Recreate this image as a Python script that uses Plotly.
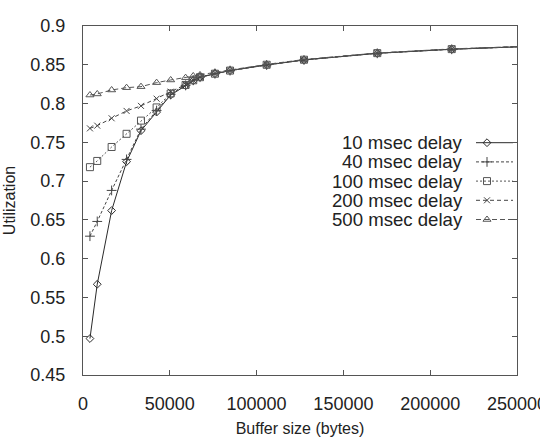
import plotly.graph_objects as go

# ---- data ----
buffer_bytes = [4000, 8200, 16500, 25100, 33400, 42400, 50500, 59100, 63500, 67400,
                76000, 84700, 105800, 127300, 169500, 212400, 255000]
util_10 = [0.497, 0.567, 0.662, 0.725, 0.765, 0.789, 0.811, 0.823, 0.8295, 0.834,
           0.8385, 0.8425, 0.8497, 0.8562, 0.8648, 0.870, 0.8735]
util_40 = [0.629, 0.648, 0.688, 0.728, 0.767, 0.791, 0.812, 0.8235, 0.830, 0.834,
           0.8385, 0.8425, 0.8497, 0.8562, 0.8648, 0.870, 0.8735]
util_100 = [0.718, 0.726, 0.744, 0.761, 0.778, 0.795, 0.813, 0.824, 0.830, 0.834,
            0.8385, 0.8425, 0.850, 0.8565, 0.865, 0.8702, 0.8737]
util_200 = [0.768, 0.7715, 0.781, 0.7905, 0.797, 0.8063, 0.8153, 0.8245, 0.830, 0.834,
            0.8388, 0.8427, 0.850, 0.8565, 0.865, 0.8702, 0.8737]
util_500 = [0.811, 0.8124, 0.8175, 0.8205, 0.8218, 0.827, 0.8304, 0.8334, 0.8356, 0.8369,
            0.8403, 0.8433, 0.8505, 0.8568, 0.8652, 0.8705, 0.8738]

series_names = ["10 msec delay", "40 msec delay", "100 msec delay",
                "200 msec delay", "500 msec delay"]
series_values = [util_10, util_40, util_100, util_200, util_500]

x_tick_vals = [0, 50000, 100000, 150000, 200000, 250000]
x_tick_text = ["0", "50000", "100000", "150000", "200000", "250000"]
y_tick_vals = [0.45, 0.5, 0.55, 0.6, 0.65, 0.7, 0.75, 0.8, 0.85, 0.9]
y_tick_text = ["0.45", "0.5", "0.55", "0.6", "0.65", "0.7", "0.75", "0.8", "0.85", "0.9"]

# ---- styles ----
symbols = ["diamond-open", "cross-thin-open", "square-open", "x-thin-open", "triangle-up-open"]
msizes = [6, 7, 7, 6, 7]
dashes = ["solid", "3px,2px", "2px,2px", "4px,3px", "5px,3px"]
colors = ["#2a2a2a", "#444444", "#555555", "#444444", "#555555"]

FONT = "Liberation Sans, Arial, Helvetica, sans-serif"
AX = "#555555"
TXT = "#222222"

fig = go.Figure()
for name, vals, sym, ms, dash, col in zip(series_names, series_values, symbols, msizes, dashes, colors):
    fig.add_trace(go.Scatter(
        x=buffer_bytes, y=vals, mode="lines+markers", name=name,
        line=dict(color=col, width=1, dash=dash),
        marker=dict(symbol=sym, size=ms, color=col, line=dict(color=col, width=1)),
        showlegend=False, xaxis="x", yaxis="y"))

# ---- custom gnuplot-style key (text left of sample) on overlay pixel axes ----
key_top = 142.7
key_step = 19.2
for i, (name, sym, ms, dash, col) in enumerate(zip(series_names, symbols, msizes, dashes, colors)):
    yy = key_top + i * key_step
    fig.add_trace(go.Scatter(
        x=[476, 513], y=[yy, yy], mode="lines",
        line=dict(color=col, width=1, dash=dash),
        showlegend=False, hoverinfo="skip", xaxis="x2", yaxis="y2"))
    fig.add_trace(go.Scatter(
        x=[487], y=[yy], mode="markers",
        marker=dict(symbol=sym, size=ms, color=col, line=dict(color=col, width=1)),
        showlegend=False, hoverinfo="skip", xaxis="x2", yaxis="y2"))
    fig.add_annotation(x=465, y=yy, xref="x2", yref="y2", text=name,
                       showarrow=False, xanchor="right", yanchor="middle",
                       font=dict(family=FONT, size=18.6, color=TXT))

# last x tick label (clipped by the page edge like in the reference)
fig.add_annotation(x=x_tick_vals[-1], y=0, xref="x", yref="paper", text=x_tick_text[-1],
                   showarrow=False, xanchor="center", yanchor="top", yshift=-17,
                   font=dict(family=FONT, size=18, color=TXT))

fig.update_layout(
    width=540, height=439,
    margin=dict(l=83, r=23, t=26, b=64),
    paper_bgcolor="white", plot_bgcolor="white",
    font=dict(family=FONT, size=18, color=TXT),
    xaxis=dict(range=[0, 250000], tickvals=x_tick_vals, ticktext=x_tick_text,
               ticks="inside", ticklen=5, tickcolor=AX, mirror="allticks",
               showline=True, linecolor=AX, linewidth=1, showgrid=False, zeroline=False,
               ticklabelstandoff=12, automargin=False,
               title=dict(text="Buffer size (bytes)", font=dict(size=16), standoff=10)),
    yaxis=dict(range=[0.45, 0.9], tickvals=y_tick_vals, ticktext=y_tick_text,
               ticks="inside", ticklen=5, tickcolor=AX, mirror="allticks",
               showline=True, linecolor=AX, linewidth=1, showgrid=False, zeroline=False,
               ticklabelstandoff=13, automargin=False,
               title=dict(text="Utilization", font=dict(size=16), standoff=10)),
    xaxis2=dict(overlaying="x", range=[83, 517], visible=False, fixedrange=True),
    yaxis2=dict(overlaying="y", range=[375, 26], visible=False, fixedrange=True),
)

fig.write_html("out.html")
